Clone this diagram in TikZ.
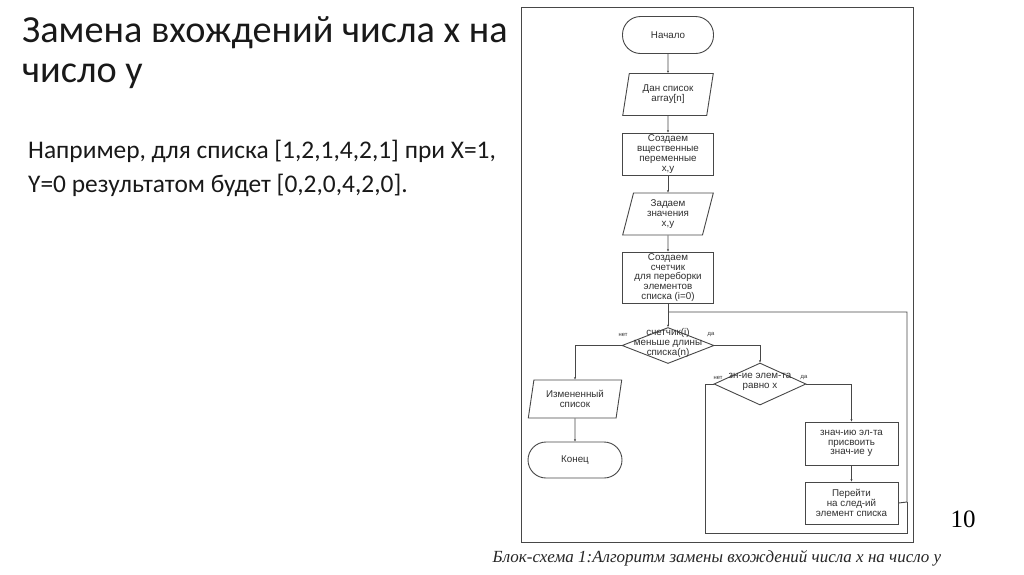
\documentclass[tikz,border=0pt]{standalone}
\usepackage{fontspec}
\setmainfont{Carlito}
\newfontfamily\flowfont{Liberation Sans}
\newfontfamily\serffont{Liberation Serif}
\usetikzlibrary{shapes.geometric,arrows.meta}
\definecolor{ln}{HTML}{474747}
\definecolor{tx}{HTML}{303030}
\tikzset{
  x=1pt, y=-1pt,
  base/.style={draw=ln, line width=0.9pt, font=\flowfont\fontsize{9.8}{9.8}\selectfont, text=tx, align=center, inner sep=0pt},
  term/.style={base, rectangle, rounded corners=18pt, minimum width=91pt, minimum height=37pt},
  io/.style={base, trapezium, trapezium left angle=77, trapezium right angle=103, trapezium stretches=true, minimum width=91pt, minimum height=42pt},
  proc/.style={base, rectangle, minimum width=91pt},
  dia/.style={base, diamond, minimum width=92pt, minimum height=36pt},
  dtxt/.style={font=\flowfont\fontsize{9.8}{10.2}\selectfont, text=tx, align=center, inner sep=0pt},
  yn/.style={font=\flowfont\fontsize{5.8}{6}\selectfont, text=tx, inner sep=0pt},
  conn/.style={draw=ln, line width=0.9pt, -{Stealth[length=2.5pt,width=2pt]}},
  plain/.style={draw=ln, line width=0.9pt}
}
\begin{document}
\begin{tikzpicture}
\useasboundingbox (0,0) rectangle (1024,574);
\fill[white] (0,0) rectangle (1024,574);
% left texts
\node[anchor=base west, inner sep=0pt, font=\fontsize{38.3}{40}\selectfont, text=black!90] (t1) at (22,42) {Замена вхождений числа x на};
\node[anchor=base west, inner sep=0pt, font=\fontsize{38.3}{40}\selectfont, text=black!90] (t2) at (22,82) {число y};
\node[anchor=base west, inner sep=0pt, font=\fontsize{25.4}{30}\selectfont, text=black!90] (b1) at (28,158) {Например, для списка [1,2,1,4,2,1] при X=1,};
\node[anchor=base west, inner sep=0pt, font=\fontsize{25.4}{30}\selectfont, text=black!90] (b2) at (28,192) {Y=0 результатом будет [0,2,0,4,2,0].};
% frame
\draw[draw=ln, line width=1pt] (521,7) rectangle (913,542);
% flowchart
\node[term] (n1) at (668,35) {Начало};
\node[io] (n2) at (668,94.5) {Дан список\\array[n]};
\node[proc, minimum height=42pt] (n3) at (668,154) {Создаем\\вщественные\\переменные\\x,y};
\node[io] (n4) at (668,214) {Задаем\\значения\\x,y};
\node[proc, minimum height=51pt] (n5) at (668,277.5) {Создаем\\счетчик\\для переборки\\элементов\\списка (i=0)};
\node[dia] (d1) at (668,345.5) {};
\node[dtxt] (d1t) at (668,343) {счетчик(i)\\меньше длины\\списка(n)};
\node[io, minimum width=94pt, minimum height=38pt] (o1) at (575,399) {Измененный\\список};
\node[term, minimum width=94pt, minimum height=36pt] (e1) at (575,460) {Конец};
\node[dia, minimum height=42pt] (d2) at (760,384) {};
\node[dtxt] (d2t) at (760,382) {зн-ие элем-та\\равно x};
\node[proc, minimum width=93pt, minimum height=43pt] (p1) at (851.5,443.5) {знач-ию эл-та\\присвоить\\знач-ие y};
\node[proc, minimum width=93pt, minimum height=42pt] (p2) at (851.5,503) {Перейти\\на след-ий\\элемент списка};
% labels
\node[yn] (l1) at (623,335) {нет};
\node[yn] (l2) at (711,335) {да};
\node[yn] (l3) at (718,378) {нет};
\node[yn] (l4) at (804,378) {да};
% coordinates
\coordinate (j) at (668,312);
\coordinate (r1) at (907,502);
\coordinate (r2) at (907,312);
\coordinate (q1) at (705,384);
\coordinate (q2) at (705,533);
\coordinate (q3) at (907,533);
% connectors
\draw[conn] (n1) -- (n2);
\draw[conn] (n2) -- (n3);
\draw[conn] (n3) -- (n4);
\draw[conn] (n4) -- (n5);
\draw[conn] (n5) -- (d1);
\draw[conn] (d1.west) -| (o1.north);
\draw[conn] (o1) -- (e1);
\draw[conn] (d1.east) -| (d2.north);
\draw[conn] (d2.east) -| (p1.north);
\draw[conn] (p1) -- (p2);
\draw[plain] (p2.east) -- (r1) -- (r2) -- (j);
\draw[plain] (d2.west) -- (q1) -- (q2) -- (q3) -- (r1);
% caption and page number
\node[font=\serffont\itshape\fontsize{17}{20}\selectfont, text=black!85, inner sep=0pt] (cap) at (717,558) {Блок-схема 1:Алгоритм замены вхождений числа x на число y};
\node[font=\serffont\fontsize{25}{28}\selectfont, text=black, inner sep=0pt] (pg) at (963,519) {10};
\end{tikzpicture}
\end{document}
